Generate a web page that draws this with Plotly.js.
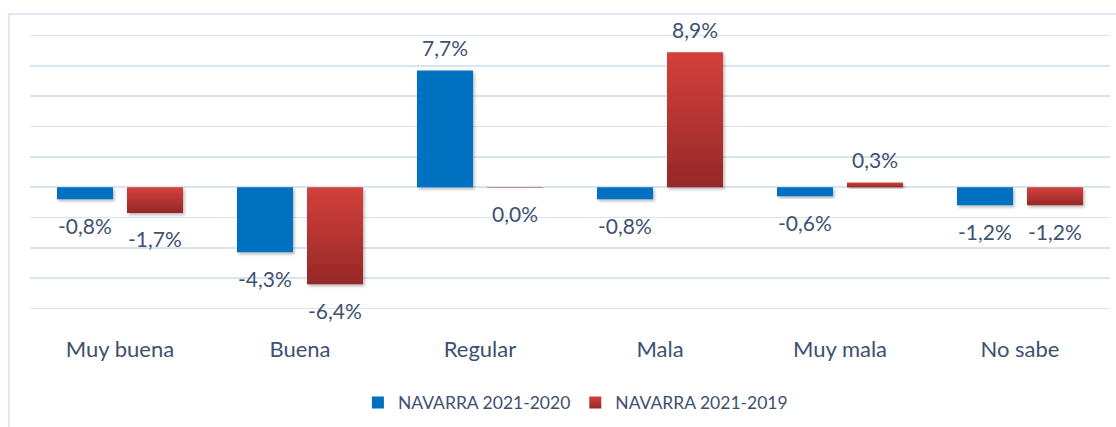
<!DOCTYPE html>
<html><head><meta charset="utf-8">
<script src="https://cdn.plot.ly/plotly-3.0.1.min.js"></script>
<style>
html,body{margin:0;padding:0;background:#fff}
#wrap{position:relative;width:1116px;height:427px;overflow:hidden}
#chart{width:1116px;height:427px}
#frame{position:absolute;left:8px;top:13px;right:-4px;bottom:-4px;border-left:2px solid #dfe8f4;border-top:2px solid #dfe8f4;pointer-events:none}
</style>
</head><body>
<div id="wrap"><div id="chart"></div><div id="frame"></div></div>
<script>
const categories = ['Muy buena', 'Buena', 'Regular', 'Mala', 'Muy mala', 'No sabe'];
const navarra2020 = [-0.8, -4.3, 7.7, -0.8, -0.6, -1.2];
const navarra2019 = [-1.7, -6.4, -0.04, 8.9, 0.3, -1.2];
const labels2020 = ['-0,8%', '-4,3%', '7,7%', '-0,8%', '-0,6%', '-1,2%'];
const labels2019 = ['-1,7%', '-6,4%', '0,0%', '8,9%', '0,3%', '-1,2%'];
const seriesNames = ['NAVARRA 2021-2020', 'NAVARRA 2021-2019'];

const FONT = 'Lato, "Open Sans", sans-serif';
const TXT = '#3f5070';
const GRID = '#d9e4f2';
const BARGAP = 0.222;
const off = (1 - BARGAP) / 4;

const traces = [
  {type: 'bar', name: seriesNames[0], x: categories, y: navarra2020,
   marker: {color: '#0070c0', line: {width: 0}}, hoverinfo: 'none'},
  {type: 'bar', name: seriesNames[1], x: categories, y: navarra2019,
   marker: {color: '#c0393a', line: {width: 0}}, hoverinfo: 'none'}
];

const annotations = [];
[[navarra2020, labels2020, -off], [navarra2019, labels2019, off]].forEach(([vals, labs, dx]) => {
  vals.forEach((v, i) => {
    annotations.push({
      x: i + dx, y: v, xref: 'x', yref: 'y', text: labs[i], showarrow: false,
      yanchor: 'middle', xanchor: 'center', yshift: v >= 0 ? 23 : -26,
      font: {family: FONT, size: 21, color: TXT}
    });
  });
});

const layout = {
  width: 1116, height: 427,
  margin: {l: 30, r: 6, t: 31, b: 112},
  paper_bgcolor: 'rgba(0,0,0,0)', plot_bgcolor: 'rgba(0,0,0,0)',
  barmode: 'group', bargap: BARGAP, bargroupgap: 0.2,
  showlegend: true,
  legend: {orientation: 'h', x: 0.505, xanchor: 'center', y: -0.318, yanchor: 'middle',
           font: {family: FONT, size: 17.5, color: TXT}, itemwidth: 30, traceorder: 'normal'},
  xaxis: {type: 'category', showgrid: false, showline: false, ticks: '', zeroline: false,
          ticklabelstandoff: 21, tickfont: {family: FONT, size: 22, color: TXT}},
  yaxis: {range: [-8.3, 10.3], dtick: 2, tick0: 0, showticklabels: false, ticks: '',
          showgrid: true, gridcolor: GRID, gridwidth: 1.5,
          zeroline: true, zerolinecolor: GRID, zerolinewidth: 1.5, showline: false},
  annotations: annotations,
  font: {family: FONT, color: TXT}
};

Plotly.newPlot('chart', traces, layout, {staticPlot: true, displayModeBar: false}).then(gd => {
  const svg = gd.querySelector('.main-svg');
  const ns = 'http://www.w3.org/2000/svg';
  const defs = document.createElementNS(ns, 'defs');
  defs.innerHTML =
    '<linearGradient id="redgrad" x1="0" y1="0" x2="0" y2="1">' +
    '<stop offset="0" stop-color="#d4403b"/><stop offset="1" stop-color="#962828"/></linearGradient>' +
    '<filter id="shadow" x="-10%" y="-10%" width="130%" height="140%">' +
    '<feDropShadow dx="1.5" dy="2" stdDeviation="1.5" flood-color="#000" flood-opacity="0.28"/></filter>';
  svg.insertBefore(defs, svg.firstChild);
  const tr = gd.querySelectorAll('.barlayer .trace');
  tr.forEach((t, k) => {
    t.querySelectorAll('path').forEach(p => {
      p.style.filter = 'url(#shadow)';
      if (k === 1) p.style.fill = 'url(#redgrad)';
    });
  });
  const lg = gd.querySelectorAll('.legend .traces');
  if (lg[1]) lg[1].querySelectorAll('.legendpoints path').forEach(p => p.style.fill = 'url(#redgrad)');
});
</script>
</body></html>
